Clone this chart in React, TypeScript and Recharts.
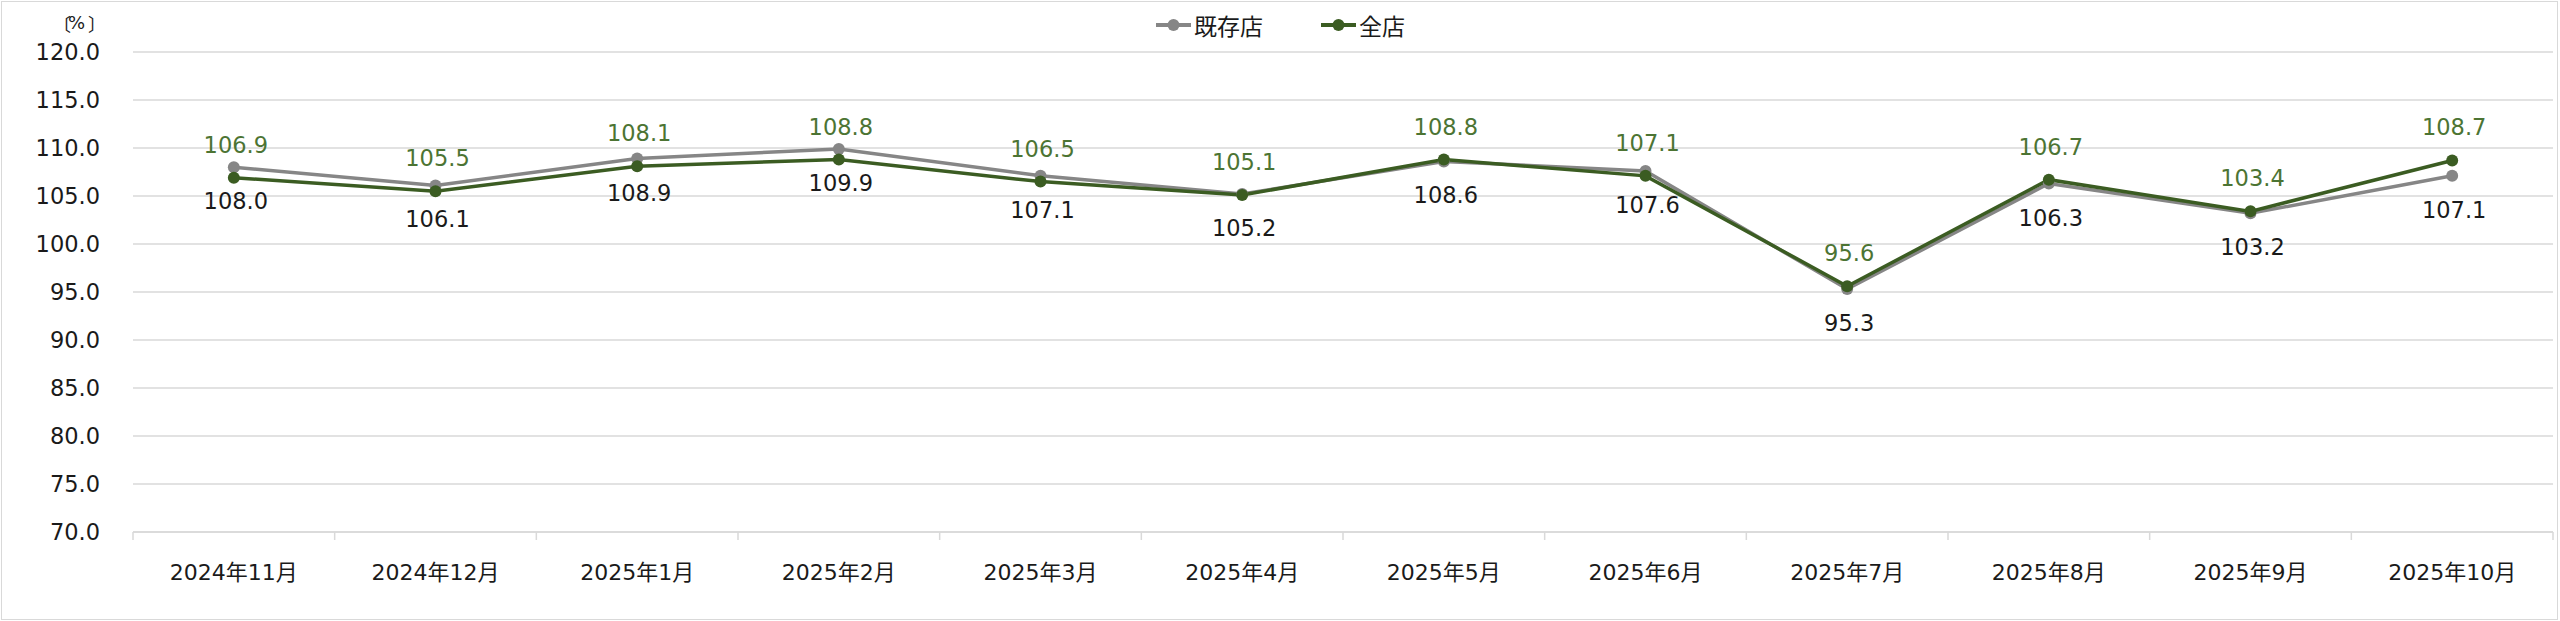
import React from 'react';
import { LineChart, Line, XAxis, YAxis, CartesianGrid, LabelList } from 'recharts';

const categories = [
  '2024年11月', '2024年12月', '2025年1月', '2025年2月', '2025年3月', '2025年4月',
  '2025年5月', '2025年6月', '2025年7月', '2025年8月', '2025年9月', '2025年10月',
];
const existingStores = [108.0, 106.1, 108.9, 109.9, 107.1, 105.2, 108.6, 107.6, 95.3, 106.3, 103.2, 107.1];
const allStores = [106.9, 105.5, 108.1, 108.8, 106.5, 105.1, 108.8, 107.1, 95.6, 106.7, 103.4, 108.7];
const yTicks = [70, 75, 80, 85, 90, 95, 100, 105, 110, 115, 120];
const seriesNames = ['既存店', '全店'];
const unitParts = ['〔', '%', '〕'];

const data = categories.map((c, i) => ({ name: c, existing: existingStores[i], all: allStores[i] }));

const W = 2560;
const H = 621;
const FONT = '"DejaVu Sans", "Noto Sans CJK JP", sans-serif';
const GRAY = '#868686';
const GREEN = '#3b5c22';
const GREEN_TEXT = '#4c7433';
const GRID = '#d9d9d9';
const TEXT = '#1a1a1a';

const XTick = (props: any) => {
  const { x, y, payload, index, width } = props;
  const n = categories.length;
  const bw = (typeof width === 'number' ? width : 2420) / n;
  return (
    <g>
      <line x1={x - bw / 2} x2={x - bw / 2} y1={y} y2={y + 8} stroke={GRID} strokeWidth={1.5} />
      {index === n - 1 && (
        <line x1={x + bw / 2} x2={x + bw / 2} y1={y} y2={y + 8} stroke={GRID} strokeWidth={1.5} />
      )}
      <text x={x} y={y + 40} textAnchor="middle" dominantBaseline="central" fontSize={22} fill={TEXT} fontFamily={FONT}>
        {payload.value}
      </text>
    </g>
  );
};

const makeLabel = (dy: number, color: string) => (props: any) => {
  const { x, y, value } = props;
  return (
    <text x={x + 2} y={y + dy} textAnchor="middle" dominantBaseline="central" fontSize={22.5} fill={color} fontFamily={FONT}>
      {Number(value).toFixed(1)}
    </text>
  );
};

const LegendIcon = ({ color }: { color: string }) => (
  <svg width={35} height={14} style={{ display: 'block' }}>
    <line x1={0} y1={7} x2={35} y2={7} stroke={color} strokeWidth={4} />
    <circle cx={17.5} cy={7} r={6} fill={color} />
  </svg>
);

export default function App() {
  return (
    <div style={{ position: 'absolute', left: 0, top: 0, width: W, height: H, background: '#fff', fontFamily: FONT }}>
      <div style={{ position: 'absolute', left: 1, top: 1, width: W - 3, height: H - 2, border: `1.5px solid ${GRID}`, boxSizing: 'border-box' }} />
      <div style={{ position: 'absolute', left: 0, top: 0 }}>
        <LineChart width={W} height={H} data={data} margin={{ top: 52, right: 7, bottom: 0, left: 0 }}>
          <CartesianGrid vertical={false} stroke={GRID} strokeWidth={1.5} />
          <XAxis
            dataKey="name"
            scale="band"
            height={89}
            interval={0}
            tickSize={0}
            tickMargin={0}
            tickLine={false}
            axisLine={{ stroke: GRID, strokeWidth: 1.5 }}
            tick={<XTick />}
          />
          <YAxis
            domain={[70, 120]}
            ticks={yTicks}
            width={133}
            tickSize={0}
            tickMargin={33}
            tickLine={false}
            axisLine={false}
            tickFormatter={(v: number) => v.toFixed(1)}
            tick={{ fontSize: 22.5, fill: TEXT, fontFamily: FONT }}
          />
          <Line
            dataKey="existing"
            name={seriesNames[0]}
            type="linear"
            stroke={GRAY}
            strokeWidth={3.5}
            dot={{ r: 6, fill: GRAY, stroke: GRAY, strokeWidth: 0 }}
            activeDot={false}
            isAnimationActive={false}
          >
            <LabelList dataKey="existing" content={makeLabel(34, TEXT)} />
          </Line>
          <Line
            dataKey="all"
            name={seriesNames[1]}
            type="linear"
            stroke={GREEN}
            strokeWidth={3.5}
            dot={{ r: 6, fill: GREEN, stroke: GREEN, strokeWidth: 0 }}
            activeDot={false}
            isAnimationActive={false}
          >
            <LabelList dataKey="all" content={makeLabel(-33, GREEN_TEXT)} />
          </Line>
        </LineChart>
      </div>
      <div style={{ position: 'absolute', left: 53, top: 11, height: 24, display: 'flex', alignItems: 'center', color: TEXT, whiteSpace: 'nowrap', lineHeight: '24px' }}>
        <span style={{ fontSize: 18, marginRight: -3, fontFamily: '"Noto Sans CJK JP", sans-serif' }}>{unitParts[0]}</span>
        <span style={{ fontSize: 18 }}>{unitParts[1]}</span>
        <span style={{ fontSize: 18, marginLeft: 3, fontFamily: '"Noto Sans CJK JP", sans-serif' }}>{unitParts[2]}</span>
      </div>
      <div style={{ position: 'absolute', left: 1156, top: 11, height: 28, display: 'flex', alignItems: 'center', fontSize: 23, color: TEXT, whiteSpace: 'nowrap' }}>
        <LegendIcon color={GRAY} />
        <span style={{ marginLeft: 3 }}>{seriesNames[0]}</span>
        <span style={{ marginLeft: 58, display: 'block' }}>
          <LegendIcon color={GREEN} />
        </span>
        <span style={{ marginLeft: 3 }}>{seriesNames[1]}</span>
      </div>
    </div>
  );
}
